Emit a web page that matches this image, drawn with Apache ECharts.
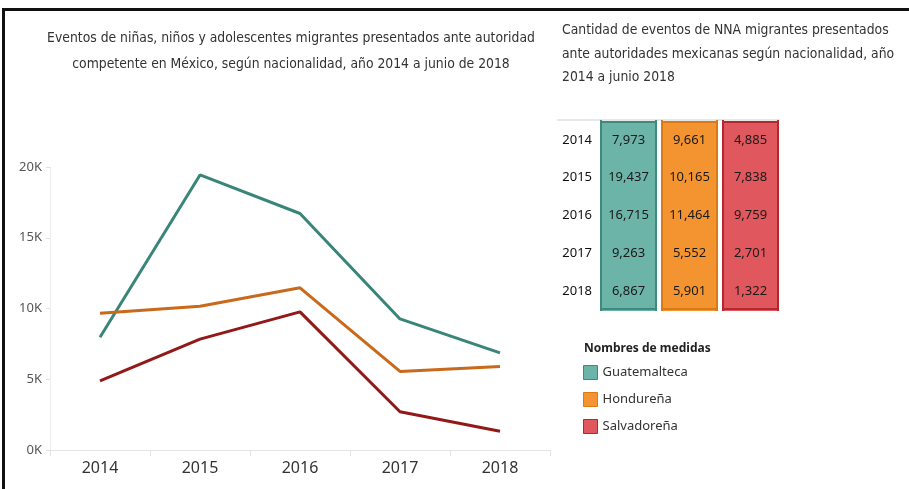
<!DOCTYPE html>
<html>
<head>
<meta charset="utf-8">
<script src="https://cdn.jsdelivr.net/npm/echarts@6/dist/echarts.min.js"></script>
<style>
  html, body { margin: 0; padding: 0; background: #fff; }
  #main { width: 909px; height: 489px; }
</style>
</head>
<body>
<div id="main"></div>
<script>
var years = ['2014', '2015', '2016', '2017', '2018'];
var nationalities = ['Guatemalteca', 'Hondureña', 'Salvadoreña'];
var guatemalteca = [7973, 19437, 16715, 9263, 6867];
var hondurena = [9661, 10165, 11464, 5552, 5901];
var salvadorena = [4885, 7838, 9759, 2701, 1322];
var yTicks = [0, 5000, 10000, 15000, 20000];

var lineColors = ['#3a8579', '#c8691b', '#931818'];
var cellFill = ['#6db4a8', '#f39431', '#e0575d'];
var cellBorder = ['#3f8a7f', '#d8791a', '#b3272d'];
var narrow = "'Liberation Sans Narrow', 'DejaVu Sans Condensed', sans-serif";

var tableData = [];
[guatemalteca, hondurena, salvadorena].forEach(function (arr, c) {
  arr.forEach(function (v, r) { tableData.push([c, r, v]); });
});

function fmt(v) {
  return String(v).replace(/\B(?=(\d{3})+(?!\d))/g, ',');
}

var chart = echarts.init(document.getElementById('main'));

chart.setOption({
  animation: false,
  textStyle: { fontFamily: 'Noto Sans' },
  title: [
    {
      text: 'Eventos de niñas, niños y adolescentes migrantes presentados ante autoridad\ncompetente en México, según nacionalidad, año 2014 a junio de 2018',
      left: 286, top: 20, textAlign: 'center',
      textStyle: { fontFamily: narrow, fontSize: 13.8, fontWeight: 'normal', color: '#333', lineHeight: 26 }
    },
    {
      text: 'Cantidad de eventos de NNA migrantes presentados\nante autoridades mexicanas según nacionalidad, año\n2014 a junio 2018',
      left: 557, top: 14,
      textStyle: { fontFamily: narrow, fontSize: 13.8, fontWeight: 'normal', color: '#333', lineHeight: 23.5 }
    },
    {
      text: 'Nombres de medidas',
      left: 579, top: 338,
      textStyle: { fontFamily: 'Noto Sans', fontSize: 12, fontWeight: 'bold', color: '#222' }
    }
  ],
  legend: {
    orient: 'vertical',
    left: 578, top: 360,
    itemWidth: 14, itemHeight: 14, itemGap: 12,
    icon: 'rect',
    textStyle: { fontSize: 13, color: '#333' },
    data: nationalities.map(function (n, i) {
      return { name: n, itemStyle: { color: cellFill[i], borderColor: cellBorder[i], borderWidth: 1 } };
    })
  },
  grid: [
    { left: 50, right: 359, top: 167, bottom: 39 },
    { left: 598, right: 128, top: 121, bottom: 179 }
  ],
  xAxis: [
    {
      type: 'category', gridIndex: 0, data: years,
      axisLine: { lineStyle: { color: '#e4e4e4' } },
      axisTick: { show: true, length: 6, lineStyle: { color: '#e4e4e4' } },
      axisLabel: { fontSize: 16, color: '#333', margin: 10 }
    },
    {
      type: 'category', gridIndex: 1, data: nationalities, show: false
    }
  ],
  yAxis: [
    {
      type: 'value', gridIndex: 0, min: yTicks[0], max: yTicks[yTicks.length - 1], interval: 5000,
      axisLine: { show: true, lineStyle: { color: '#ececec' } },
      axisTick: { show: true, length: 4, lineStyle: { color: '#e0e0e0' } },
      splitLine: { show: false },
      axisLabel: { fontSize: 13, color: '#555', margin: 8, formatter: function (v) { return (v / 1000) + 'K'; } }
    },
    {
      type: 'category', gridIndex: 1, data: years, inverse: true,
      axisLine: { show: false }, axisTick: { show: false },
      axisLabel: { fontSize: 13, color: '#111', margin: 6 }
    }
  ],
  graphic: [
    { type: 'rect', shape: { x: 2, y: 8, width: 907, height: 3 }, style: { fill: '#111' } },
    { type: 'rect', shape: { x: 2, y: 8, width: 3, height: 481 }, style: { fill: '#111' } },
    { type: 'line', shape: { x1: 557, y1: 120, x2: 780, y2: 120 }, style: { stroke: '#cfcfcf', lineWidth: 1 } }
  ],
  series: [
    {
      name: nationalities[0], type: 'line', data: guatemalteca, symbol: 'none',
      lineStyle: { width: 3, color: lineColors[0] }, itemStyle: { color: lineColors[0] }
    },
    {
      name: nationalities[1], type: 'line', data: hondurena, symbol: 'none',
      lineStyle: { width: 3, color: lineColors[1] }, itemStyle: { color: lineColors[1] }
    },
    {
      name: nationalities[2], type: 'line', data: salvadorena, symbol: 'none',
      lineStyle: { width: 3, color: lineColors[2] }, itemStyle: { color: lineColors[2] }
    },
    {
      type: 'custom', xAxisIndex: 1, yAxisIndex: 1, data: tableData,
      renderItem: function (params, api) {
        var c = api.value(0), r = api.value(1);
        var pt = api.coord([c, r]);
        var sz = api.size([1, 1]);
        var w = sz[0] - 4, h = sz[1];
        var x = pt[0] - w / 2, y = pt[1] - h / 2;
        var bc = cellBorder[c];
        var kids = [
          { type: 'rect', shape: { x: x, y: Math.floor(y), width: w, height: Math.ceil(h) + 1 }, style: { fill: cellFill[c] } },
          { type: 'line', shape: { x1: x + 1, y1: y - 1, x2: x + 1, y2: y + h + 1 }, style: { stroke: bc, lineWidth: 2 } },
          { type: 'line', shape: { x1: x + w - 1, y1: y - 1, x2: x + w - 1, y2: y + h + 1 }, style: { stroke: bc, lineWidth: 2 } }
        ];
        if (r === 0) kids.push({ type: 'line', shape: { x1: x, y1: y + 1, x2: x + w, y2: y + 1 }, style: { stroke: bc, lineWidth: 2 } });
        if (r === years.length - 1) kids.push({ type: 'line', shape: { x1: x, y1: y + h - 1, x2: x + w, y2: y + h - 1 }, style: { stroke: bc, lineWidth: 2 } });
        kids.push({
          type: 'text',
          style: { text: fmt(api.value(2)), x: pt[0], y: pt[1], align: 'center', verticalAlign: 'middle', fill: '#1a1a1a', font: '13px "Noto Sans"' }
        });
        return { type: 'group', children: kids };
      }
    }
  ]
});
</script>
</body>
</html>
